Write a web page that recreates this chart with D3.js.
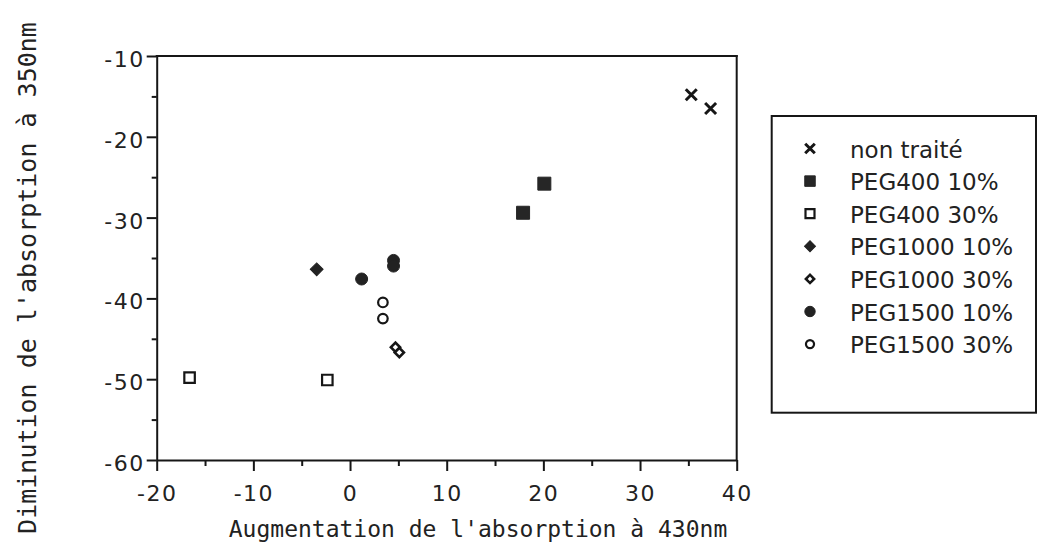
<!DOCTYPE html>
<html><head><meta charset="utf-8">
<script src="https://cdn.jsdelivr.net/npm/d3@7"></script>
<style>body{margin:0;background:#fff}svg{display:block}</style>
</head><body><svg id="c" width="1037" height="553"></svg>
<script>
// ---- data ----
const seriesNames = ["non traité","PEG400 10%","PEG400 30%","PEG1000 10%","PEG1000 30%","PEG1500 10%","PEG1500 30%"];
const nonTraiteX = [35.3, 37.3];      const nonTraiteY = [-14.8, -16.5];
const peg400_10X = [20.1, 17.9];      const peg400_10Y = [-25.8, -29.4];
const peg400_30X = [-16.6, -2.35];    const peg400_30Y = [-49.8, -50.1];
const peg1000_10X = [-3.45];          const peg1000_10Y = [-36.4];
const peg1000_30X = [4.7, 5.1];       const peg1000_30Y = [-46.05, -46.7];
const peg1500_10X = [1.2, 4.5, 4.5];  const peg1500_10Y = [-37.6, -35.3, -36.0];
const peg1500_30X = [3.4, 3.4];       const peg1500_30Y = [-40.5, -42.5];
const xTicks = [-20, -10, 0, 10, 20, 30, 40];
const xMinorTicks = [-15, -5, 5, 15, 25, 35];
const yTicks = [-60, -50, -40, -30, -20, -10];
const yMinorTicks = [-55, -45, -35, -25, -15];
const xTitle = "Augmentation de l'absorption à 430nm";
const yTitle = "Diminution de l'absorption à 350nm";

const seriesX = [nonTraiteX, peg400_10X, peg400_30X, peg1000_10X, peg1000_30X, peg1500_10X, peg1500_30X];
const seriesY = [nonTraiteY, peg400_10Y, peg400_30Y, peg1000_10Y, peg1000_30Y, peg1500_10Y, peg1500_30Y];

// ---- styles ----
const ink = "#161616";
const styles = [
  {type: d3.symbolTimes,  size: 80,  lsize: 62, fill: "none", stroke: ink, sw: 3, lsw: 3, rot: 0},
  {type: d3.symbolSquare, size: 169, lsize: 110, fill: "#262626", stroke: "#262626", sw: 1, lsw: 1, rot: 0},
  {type: d3.symbolSquare, size: 110, lsize: 81, fill: "#fff", stroke: ink, sw: 2.2, lsw: 2.2, rot: 0},
  {type: d3.symbolSquare, size: 82,  lsize: 60, fill: "#222", stroke: "#222", sw: 1, lsw: 1, rot: 45},
  {type: d3.symbolSquare, size: 42,  lsize: 34, fill: "#fff", stroke: ink, sw: 2.6, lsw: 2.6, rot: 45},
  {type: d3.symbolCircle, size: 113, lsize: 85, fill: "#222", stroke: "#222", sw: 1, lsw: 1, rot: 0},
  {type: d3.symbolCircle, size: 72,  lsize: 52, fill: "#fff", stroke: ink, sw: 2.2, lsw: 2.2, rot: 0}
];

const svg = d3.select("#c");
svg.append("rect").attr("width", 1037).attr("height", 553).attr("fill", "#fff");

const x = d3.scaleLinear().domain([-20, 40]).range([156.7, 736.7]);
const y = d3.scaleLinear().domain([-60, -10]).range([460, 56]);

const tickFont = "'DejaVu Sans', sans-serif";
const titleFont = "'DejaVu Sans Mono', monospace";
const fmt = d => String(d);

function styleAxis(g) {
  g.selectAll("path.domain").attr("stroke", ink).attr("stroke-width", 2);
  g.selectAll(".tick line").attr("stroke", ink).attr("stroke-width", 2);
  g.selectAll("text").attr("fill", "#222").style("font-family", tickFont).style("font-size", "22px")
    .style("letter-spacing", "1.5px");
}

// x axis
const gx = svg.append("g").attr("transform", `translate(0,${y(-60)})`)
  .call(d3.axisBottom(x).tickValues(xTicks).tickSize(11).tickSizeOuter(0).tickFormat(fmt));
styleAxis(gx);
gx.selectAll("text").attr("y", 41).attr("dy", null);
const gxm = svg.append("g").attr("transform", `translate(0,${y(-60)})`)
  .call(d3.axisBottom(x).tickValues(xMinorTicks).tickSize(6).tickFormat(""));
gxm.select("path.domain").remove();
styleAxis(gxm);

// y axis
const gy = svg.append("g").attr("transform", `translate(${x(-20)},0)`)
  .call(d3.axisLeft(y).tickValues(yTicks).tickSize(10).tickSizeOuter(0).tickFormat(fmt));
styleAxis(gy);
gy.selectAll("text").attr("x", -12).attr("dy", null).attr("y", 10.5);
const gym = svg.append("g").attr("transform", `translate(${x(-20)},0)`)
  .call(d3.axisLeft(y).tickValues(yMinorTicks).tickSize(5).tickFormat(""));
gym.select("path.domain").remove();
styleAxis(gym);

// frame top & right
svg.append("line").attr("x1", x(-20)).attr("x2", x(40)).attr("y1", y(-10)).attr("y2", y(-10))
  .attr("stroke", ink).attr("stroke-width", 2).attr("stroke-linecap", "square");
svg.append("line").attr("x1", x(40)).attr("x2", x(40)).attr("y1", y(-10)).attr("y2", y(-60))
  .attr("stroke", ink).attr("stroke-width", 2).attr("stroke-linecap", "square");

// titles
svg.append("text").attr("x", 478).attr("y", 537).attr("text-anchor", "middle")
  .style("font-family", titleFont).style("font-size", "23px").attr("fill", "#222").text(xTitle);
svg.append("text").attr("transform", "translate(36,278) rotate(-90)").attr("text-anchor", "middle")
  .style("font-family", titleFont).style("font-size", "25px").attr("fill", "#222").text(yTitle);

// points
seriesX.forEach((xs, i) => {
  const st = styles[i];
  const sym = d3.symbol(st.type, st.size);
  svg.append("g").selectAll("path").data(xs.map((v, j) => [v, seriesY[i][j]])).join("path")
    .attr("d", sym)
    .attr("transform", d => `translate(${x(d[0])},${y(d[1])}) rotate(${st.rot})`)
    .attr("fill", st.fill).attr("stroke", st.stroke).attr("stroke-width", st.sw);
});

// legend
const lg = svg.append("g");
lg.append("rect").attr("x", 771.7).attr("y", 116).attr("width", 264.3).attr("height", 296.7)
  .attr("fill", "#fff").attr("stroke", ink).attr("stroke-width", 2);
seriesNames.forEach((name, i) => {
  const st = styles[i];
  const cy = 148.5 + i * 32.6;
  lg.append("path").attr("d", d3.symbol(st.type, st.lsize))
    .attr("transform", `translate(810,${cy}) rotate(${st.rot})`)
    .attr("fill", st.fill).attr("stroke", st.stroke).attr("stroke-width", st.lsw);
  lg.append("text").attr("x", 850).attr("y", cy + 9).style("font-family", tickFont)
    .style("font-size", "23px").attr("fill", "#222").text(name);
});
</script></body></html>
